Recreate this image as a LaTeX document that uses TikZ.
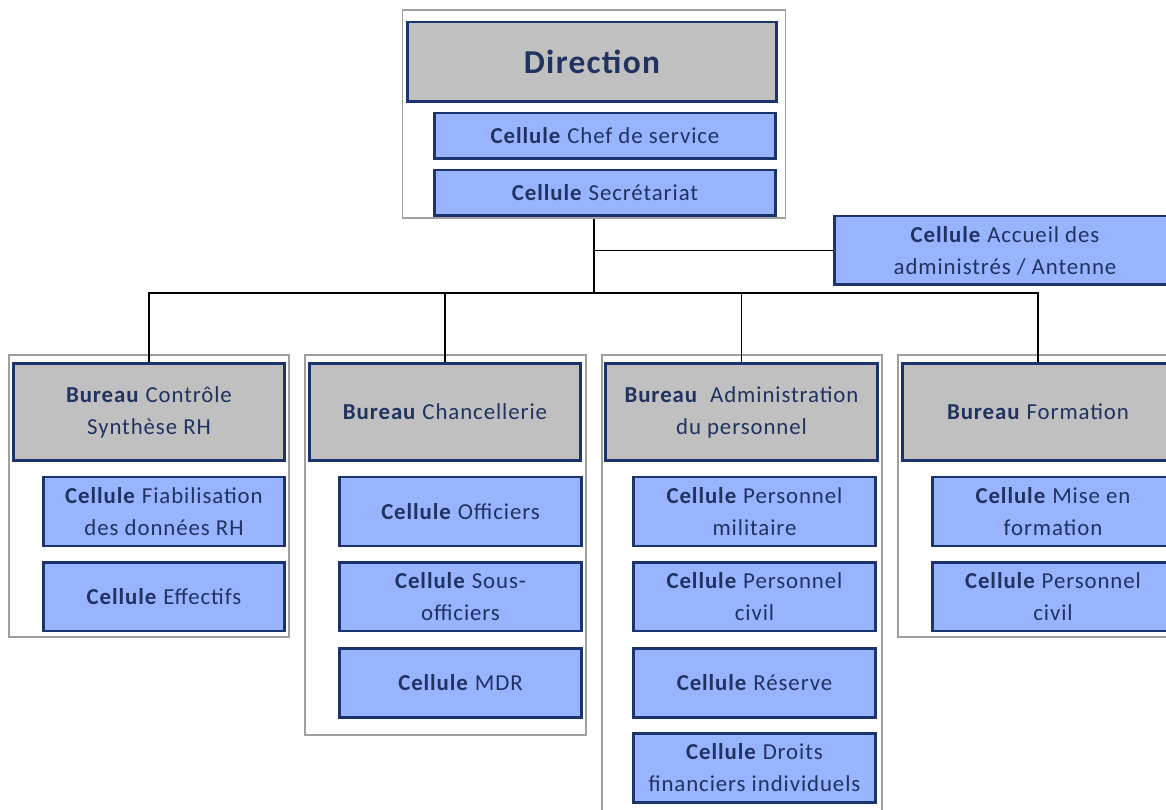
\documentclass[tikz,border=0pt]{standalone}
\usepackage{fontspec}
\setmainfont{Carlito}[LetterSpace=4]
\usepackage{xcolor}
\definecolor{orgNavy}{RGB}{27, 52, 110}
\definecolor{orgText}{RGB}{31, 50, 96}
\definecolor{orgGray}{RGB}{192, 192, 192}
\definecolor{orgBlue}{RGB}{153, 180, 255}
\definecolor{orgFrame}{RGB}{160, 160, 160}
\usepackage{tikz}
\usetikzlibrary{positioning}

\begin{document}
\begin{tikzpicture}[
    x=0.02cm, y=-0.02cm,
    direction/.style={
        rectangle, draw=orgNavy, line width=1.7pt,
        fill=orgGray, text=orgText,
        align=center, font=\fontsize{19}{23}\selectfont\bfseries,
        minimum width=7.4cm, minimum height=1.6cm, inner sep=0pt
    },
    bureau/.style={
        rectangle, draw=orgNavy, line width=1.7pt,
        fill=orgGray, text=orgText,
        align=center, font=\fontsize{13}{18.2}\selectfont,
        minimum width=5.44cm, minimum height=1.96cm, inner sep=0pt
    },
    cell/.style={
        rectangle, draw=orgNavy, line width=1.7pt,
        fill=orgBlue, text=orgText,
        align=center, font=\fontsize{13}{18.2}\selectfont,
        minimum width=4.84cm, minimum height=1.38cm, inner sep=0pt
    },
    cellWide/.style={
        cell, minimum width=6.84cm, minimum height=0.92cm
    },
    group/.style={
        rectangle, draw=orgFrame, line width=0.8pt, fill=white, inner sep=0pt
    },
    link/.style={
        draw=black, line width=1pt
    }
]
    \useasboundingbox (0,0) rectangle (1166,810);
    \clip (0,0) rectangle (1166,810);

    % Group frames
    \node[group, minimum width=7.66cm, minimum height=4.16cm] (dirFrame) at (594,114) {};
    \node[group, minimum width=5.6cm, minimum height=5.64cm] (grpCtrl) at (149,496) {};
    \node[group, minimum width=5.62cm, minimum height=7.6cm] (grpChan) at (445.5,545) {};
    \node[group, minimum width=5.6cm, minimum height=9.2cm] (grpAdmin) at (742,585) {};
    \node[group, minimum width=5.6cm, minimum height=5.64cm] (grpForm) at (1038,496) {};

    % Direction
    \node[direction] (dirBox) at (592,62) {Direction};
    \node[cellWide] (cellChef) at (605,136) {\textbf{Cellule} Chef de service};
    \node[cellWide] (cellSecr) at (605,193) {\textbf{Cellule} Secrétariat};
    \node[cell, minimum width=6.84cm] (cellAccueil) at (1005,250.5) {\textbf{Cellule} Accueil des\\administrés / Antenne};

    % Bureaux
    \node[bureau] (burCtrl) at (149,412) {\textbf{Bureau} Contrôle\\Synthèse RH};
    \node[bureau] (burChan) at (445,412) {\textbf{Bureau} Chancellerie};
    \node[bureau] (burAdmin) at (741.5,412) {\textbf{Bureau}~ Administration\\du personnel};
    \node[bureau] (burForm) at (1038,412) {\textbf{Bureau} Formation};

    % Cellules
    \node[cell] (cellFiab) at (164,511.5) {\textbf{Cellule} Fiabilisation\\des données RH};
    \node[cell] (cellEff) at (164,596.5) {\textbf{Cellule} Effectifs};

    \node[cell] (cellOff) at (460.5,511.5) {\textbf{Cellule} Officiers};
    \node[cell] (cellSousOff) at (460.5,596.5) {\textbf{Cellule} Sous-\\officiers};
    \node[cell] (cellMdr) at (460.5,683) {\textbf{Cellule} MDR};

    \node[cell] (cellMil) at (754.5,511.5) {\textbf{Cellule} Personnel\\militaire};
    \node[cell] (cellCiv) at (754.5,596.5) {\textbf{Cellule} Personnel\\civil};
    \node[cell] (cellRes) at (754.5,683) {\textbf{Cellule} Réserve};
    \node[cell] (cellDroits) at (754.5,768) {\textbf{Cellule} Droits\\financiers individuels};

    \node[cell] (cellMise) at (1053,511.5) {\textbf{Cellule} Mise en\\formation};
    \node[cell] (cellCivF) at (1053,596.5) {\textbf{Cellule} Personnel\\civil};

    % Links
    \coordinate (bus) at (594,293);
    \draw[link] (dirFrame.south) -- (bus);
    \draw[link] (dirFrame.south |- cellAccueil.west) -- (cellAccueil.west);
    \draw[link] (burCtrl.north) |- (bus) -| (burForm.north);
    \draw[link] (burChan.north) -- (burChan.north |- bus);
    \draw[link] (burAdmin.north) -- (burAdmin.north |- bus);

\end{tikzpicture}
\end{document}
